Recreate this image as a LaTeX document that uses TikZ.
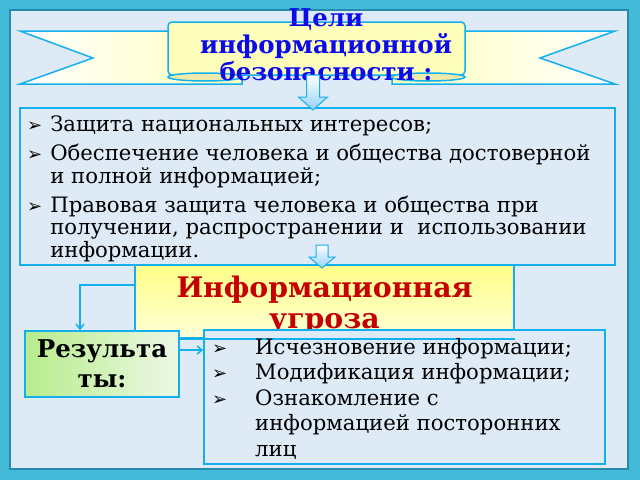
\documentclass[tikz,border=0pt]{standalone}
\usepackage{fontspec}
\setmainfont{DejaVu Serif}
\newfontfamily\bulfont{DejaVu Sans}
\usetikzlibrary{positioning,arrows.meta}

\definecolor{framecol}{RGB}{66,186,216}
\definecolor{framedark}{RGB}{38,138,172}
\definecolor{paper}{RGB}{222,234,246}
\definecolor{linecol}{RGB}{20,176,238}
\definecolor{ribbon}{RGB}{255,255,188}
\definecolor{rollcol}{RGB}{240,234,170}
\definecolor{arrowblue}{RGB}{150,210,248}
\definecolor{titleblue}{RGB}{10,10,235}
\definecolor{threatred}{RGB}{196,0,0}
\newcommand{\bul}{{\bulfont\fontsize{18}{18}\selectfont\char"27A2}}

\begin{document}
\begin{tikzpicture}[x=1pt,y=-1pt,
  box/.style={draw=linecol,line width=1.5pt},
  conn/.style={draw=linecol,line width=1.5pt,-{Straight Barb[length=5pt,width=8pt]}},
  blockarr/.style={draw=linecol,line width=1pt,top color=white,bottom color=arrowblue},
  bodytext/.style={inner sep=0pt,align=left,font=\fontsize{21.2}{22}\selectfont}]
\useasboundingbox (0,0) rectangle (640,480);
% frame and paper
\fill[framecol] (0,0) rectangle (640,480);
\fill[paper] (10,10) rectangle (628,469);
\draw[framedark,line width=1.5pt] (10,10) rectangle (628,469);

% ribbon with the title
\draw[box,left color=white,right color=ribbon]
  (20,31) -- (242,31) -- (242,84) -- (20,84) -- (93,58) -- cycle;
\draw[box,left color=ribbon,right color=white]
  (392,31) -- (615,31) -- (540,58) -- (615,84) -- (392,84) -- cycle;
\node[box,fill=ribbon,rounded corners=4pt,minimum width=297pt,minimum height=53pt,
  inner sep=0pt] (banner) at (316.5,48.5) {};
\draw[box,fill=rollcol] (205,77) ellipse [x radius=37,y radius=4];
\draw[box,fill=rollcol] (428,77) ellipse [x radius=37,y radius=4];
\node[text=titleblue,align=center,inner sep=0pt,
  font=\fontsize{24.5}{27}\bfseries\selectfont] (title) at (326,45)
  {Цели\\информационной\\безопасности :};

% goals
\node[box,minimum width=595pt,minimum height=157pt,inner sep=0pt] (goals) at (317.5,186.5) {};
\node[bodytext,anchor=north west] (goaltext) at (27,116) {%
  \begin{tabular}{@{}l@{\hspace{8pt}}l@{}}
  \bul & Защита национальных интересов;\\[6pt]
  \bul & Обеспечение человека и общества достоверной\\
   & и полной информацией;\\[6pt]
  \bul & Правовая защита человека и общества при\\
   & получении, распространении и\ \ использовании\\
   & информации.
  \end{tabular}};
\draw[blockarr] (306.5,75) -- (306.5,97) -- (298.5,97) -- (313,110)
  -- (327.5,97) -- (319.5,97) -- (319.5,75) -- cycle;

% threat
\node[box,top color={rgb,255:red,255;green,255;blue,135},bottom color={rgb,255:red,255;green,255;blue,215},
  minimum width=379pt,minimum height=73pt,inner sep=0pt] (threat) at (324.5,301.5) {};
\node[text=threatred,align=center,inner sep=0pt,
  font=\fontsize{28.3}{31}\bfseries\selectfont] (threattext) at ([yshift=-4pt]threat.center)
  {Информационная\\угроза};
\draw[blockarr] (316,245) -- (316,257) -- (309,257) -- (322,268)
  -- (335,257) -- (328,257) -- (328,245) -- cycle;

% results
\node[box,left color={rgb,255:red,184;green,236;blue,140},right color={rgb,255:red,236;green,248;blue,230},
  minimum width=154pt,minimum height=66pt,inner sep=0pt,align=center,
  font=\fontsize{24.5}{30}\bfseries\selectfont] (result) at (102,364) {Результа\\ты:};
\node[box,fill=paper,minimum width=401pt,minimum height=134pt,inner sep=0pt] (losses) at (404.5,397) {};
\draw[box] (result.east |- threat.south) -- (threat.south east);
\node[inner sep=0pt,align=left,anchor=north west,font=\fontsize{21.2}{25.5}\selectfont]
  (losstext) at (212,336) {%
  \begin{tabular}{@{}p{43pt}@{}l@{}}
  \bul & Исчезновение информации;\\
  \bul & Модификация информации;\\
  \bul & Ознакомление с\\
   & информацией посторонних\\
   & лиц
  \end{tabular}};

% connectors
\draw[conn] ([yshift=16.5pt]threat.west) -| ([xshift=-22pt]result.north);
\coordinate (r1) at ([yshift=14pt]result.east);
\draw[conn] (r1) -- (r1 -| losses.west);
\end{tikzpicture}
\end{document}
